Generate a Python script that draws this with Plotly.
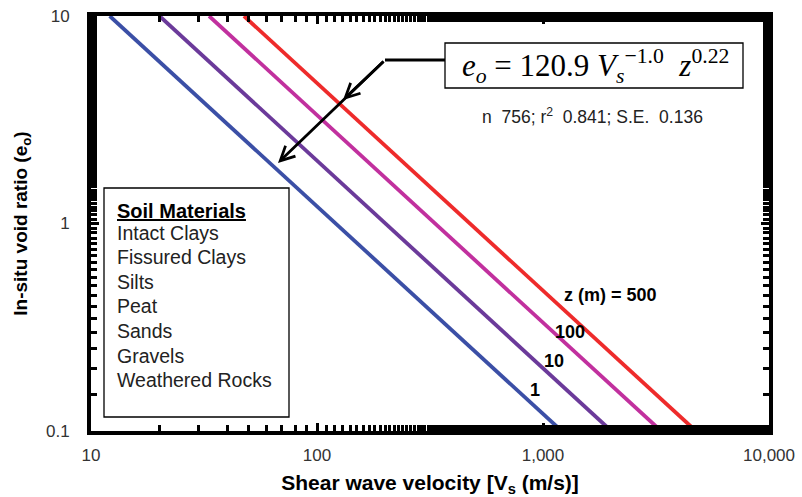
import plotly.graph_objects as go

# Fitted trend lines e_o = 120.9 Vs^-1.0 z^0.22, one per depth z (m)
depths = [1, 10, 100, 500]
depth_labels = ["1", "10", "100", "z (m) = 500"]
line_colors = ["#3b4fa6", "#6b3a9a", "#c1309e", "#ee2b2b"]
# Shear wave velocity where each line crosses e = 10 (top) and e = 0.1 (bottom)
vs_top = [12.1, 20.1, 33.3, 47.5]
vs_bottom = [1209, 2006, 3330, 4745]
e_top = 10
e_bottom = 0.1

soil_materials = ["Intact Clays", "Fissured Clays", "Silts", "Peat",
                  "Sands", "Gravels", "Weathered Rocks"]

x_ticks = [10, 100, 1000, 10000]
x_ticktext = ["10", "100", "1,000", "10,000"]
y_ticks = [0.1, 1, 10]
y_ticktext = ["0.1", "1", "10"]

FONT = "Arial, Liberation Sans, sans-serif"

fig = go.Figure()
for z, c, a, b in zip(depths, line_colors, vs_top, vs_bottom):
    fig.add_trace(go.Scatter(x=[a, b], y=[e_top, e_bottom], mode="lines",
                             line=dict(color=c, width=3.8), name=f"z = {z} m",
                             showlegend=False, hoverinfo="skip"))

axis_common = dict(
    type="log", showgrid=False, zeroline=False, showline=True,
    linecolor="black", linewidth=4, mirror="ticks", automargin=False,
    ticks="inside", ticklen=8, tickwidth=3, tickcolor="black",
    minor=dict(ticks="inside", ticklen=6, tickwidth=3, tickcolor="black",
               showgrid=False),
    tickfont=dict(family=FONT, size=17, color="#333333"),
)

fig.update_xaxes(**axis_common, range=[1, 4], tickvals=x_ticks,
                 ticktext=x_ticktext, ticklabelstandoff=6,
                 title=dict(text="<b>Shear wave velocity [V<sub>s</sub> (m/s)]</b>",
                            font=dict(family=FONT, size=21, color="black"),
                            standoff=12))
fig.update_yaxes(**axis_common, range=[-1, 1], tickvals=y_ticks,
                 ticktext=y_ticktext, ticklabelstandoff=14,
                 title=dict(text="<b>In-situ void ratio (e<sub>o</sub>)</b>",
                            font=dict(family=FONT, size=19, color="black"),
                            standoff=14))

L, R, T, B = 91, 33, 16, 66
W, H = 802, 497
pw, ph = W - L - R, H - T - B


def px(x):
    return (x - L) / pw


def py(y):
    return 1 - (y - T) / ph


shapes = []
# equation box
shapes.append(dict(type="rect", xref="paper", yref="paper",
                   x0=px(445), x1=px(743), y0=py(88), y1=py(43),
                   line=dict(color="black", width=1.3), fillcolor="white"))
# horizontal leader from the equation box
shapes.append(dict(type="line", xref="paper", yref="paper",
                   x0=px(385), x1=px(445), y0=py(60), y1=py(60),
                   line=dict(color="black", width=2.8)))
# soil materials box
shapes.append(dict(type="rect", xref="paper", yref="paper",
                   x0=px(104), x1=px(289), y0=py(417), y1=py(188),
                   line=dict(color="black", width=1.3), fillcolor="white"))

annotations = []
annotations.append(dict(
    xref="paper", yref="paper", x=px(595), y=py(66), xanchor="center",
    yanchor="middle", showarrow=False,
    text="<i>e<sub>o</sub></i> = 120.9 <i>V<sub>s</sub></i><sup>\u22121.0</sup>\u2002<i>z</i><sup>0.22</sup>",
    font=dict(family="Liberation Serif, DejaVu Serif, serif", size=31, color="black")))
annotations.append(dict(
    xref="paper", yref="paper", x=px(592), y=py(116), xanchor="center",
    yanchor="middle", showarrow=False,
    text="n  756; r<sup>2</sup>  0.841; S.E.  0.136",
    font=dict(family=FONT, size=17.5, color="#222222")))

# arrows pointing at the red and blue lines
for tipx, tipy in [(343, 100), (278, 163)]:
    annotations.append(dict(
        xref="paper", yref="paper", x=px(tipx), y=py(tipy),
        ax=385 - tipx, ay=60 - tipy, axref="pixel", ayref="pixel",
        showarrow=True, arrowhead=5, arrowsize=1.0, arrowwidth=2.8,
        arrowcolor="black", text=""))

annotations.append(dict(
    xref="paper", yref="paper", x=px(115), y=py(211), xanchor="left",
    yanchor="middle", showarrow=False,
    text="<b><u>Soil Materials</u></b>",
    font=dict(family=FONT, size=20, color="black")))
for i, s in enumerate(soil_materials):
    annotations.append(dict(
        xref="paper", yref="paper", x=px(115), y=py(232.5 + 24.6 * i),
        xanchor="left", yanchor="middle", showarrow=False, text=s,
        font=dict(family=FONT, size=19.5, color="#222222")))

label_pos = [(535, 390), (554, 361), (570, 332), (610, 295)]
for lab, (lx, ly) in zip(depth_labels, label_pos):
    annotations.append(dict(
        xref="paper", yref="paper", x=px(lx), y=py(ly), xanchor="center",
        yanchor="middle", showarrow=False, text=f"<b>{lab}</b>",
        font=dict(family=FONT, size=18, color="black")))

fig.update_layout(
    width=W, height=H, margin=dict(l=L, r=R, t=T, b=B),
    paper_bgcolor="white", plot_bgcolor="white",
    shapes=shapes, annotations=annotations, showlegend=False,
)

fig.write_html("out.html")
